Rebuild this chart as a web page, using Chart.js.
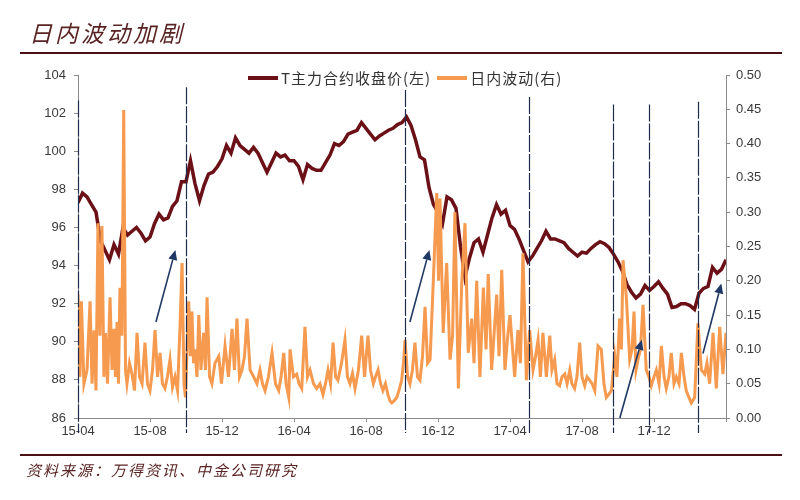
<!DOCTYPE html>
<html>
<head>
<meta charset="utf-8">
<script src="https://cdn.jsdelivr.net/npm/chart.js@4.4.1/dist/chart.umd.min.js"></script>
<style>
  body { margin: 0; background: #fff; }
  #wrap { position: relative; width: 800px; height: 500px; overflow: hidden; }
  #title { position: absolute; left: 29px; top: 15px; font: italic 23px "Noto Sans CJK SC"; letter-spacing: 3px; color: #5a2424; }
  #source { position: absolute; left: 26px; top: 459px; font: italic 15px "Noto Sans CJK SC"; letter-spacing: 2px; color: #5a2424; }
  .rule { position: absolute; left: 20px; width: 762px; height: 2px; background: #4a1014; }
  #legend { position: absolute; left: 248px; top: 67px; display: flex; align-items: center; font: 15px "Noto Sans CJK SC"; letter-spacing: 1px; color: #333; }
  .swatch { display: inline-block; width: 30px; height: 4px; margin-right: 3px; }
</style>
</head>
<body>
<div id="wrap">
  <canvas id="chart" width="800" height="500"></canvas>
  <div id="title">日内波动加剧</div>
  <div class="rule" style="top:52px"></div>
  <div class="rule" style="top:454px"></div>
  <div id="source">资料来源：万得资讯、中金公司研究</div>
  <div id="legend">
    <span class="swatch" style="background:#6b1017"></span><span>T主力合约收盘价(左)</span>
    <span class="swatch" style="background:#f59a4f;margin-left:6px"></span><span>日内波动(右)</span>
  </div>
</div>
<script>
// x axis is in months since 2015-04
const tickLabels = ['15-04', '15-08', '15-12', '16-04', '16-08', '16-12', '17-04', '17-08', '17-12', ''];

// T main contract close, one value per quarter month
const priceStep = 0.25;
const priceValues = [
  97.3, 97.8, 97.6, 97.2, 96.8, 95.3, 94.8, 94.3, 95.1, 94.6, 96.0, 95.6,
  95.8, 96.0, 95.7, 95.3, 95.5, 96.2, 96.7, 96.4, 96.5, 97.1, 97.4, 98.4,
  98.4, 99.5, 98.3, 97.4, 98.2, 98.8, 98.9, 99.2, 99.6, 100.3, 99.9, 100.7,
  100.3, 100.1, 99.9, 100.2, 99.9, 99.4, 98.9, 99.4, 99.9, 99.7, 99.8, 99.5,
  99.5, 99.2, 98.5, 99.3, 99.1, 99.0, 99.0, 99.4, 99.8, 100.4, 100.3, 100.5,
  100.9, 101.0, 101.1, 101.5, 101.2, 100.9, 100.6, 100.8, 100.95, 101.1, 101.2, 101.4,
  101.5, 101.8, 101.35, 100.6, 99.7, 99.55, 98.1, 97.2, 96.8, 96.2, 97.6, 97.45,
  97.0, 95.0, 93.4, 94.4, 95.2, 95.4, 94.7, 95.6, 96.5, 97.2, 96.7, 96.9,
  96.1, 95.9, 95.4, 94.8, 94.2, 94.5, 94.9, 95.3, 95.8, 95.4, 95.4, 95.3,
  95.2, 94.9, 94.7, 94.5, 94.7, 94.65, 94.9, 95.1, 95.25, 95.15, 94.95, 94.6,
  94.2, 93.7, 93.0, 92.6, 92.3, 92.5, 92.95, 92.7, 92.9, 93.15, 92.8, 92.5,
  91.8, 91.85, 92.0, 92.0, 91.9, 91.7, 92.55, 92.8, 92.9, 93.9, 93.6, 93.8,
  94.3
];

// intraday volatility
const volMonths = [
  0.00, 0.11, 0.19, 0.33, 0.50, 0.67, 0.78, 0.89, 1.00, 1.11, 1.22, 1.33, 1.44, 1.53, 1.64, 1.78,
  1.89, 2.00, 2.08, 2.17, 2.25, 2.33, 2.44, 2.54, 2.64, 2.72, 2.86, 3.00, 3.14, 3.28, 3.42, 3.56,
  3.72, 3.86, 4.00, 4.14, 4.28, 4.42, 4.56, 4.69, 4.83, 4.97, 5.11, 5.25, 5.39, 5.53, 5.67, 5.78,
  5.89, 5.97, 6.06, 6.15, 6.25, 6.33, 6.42, 6.50, 6.61, 6.71, 6.83, 6.98, 7.08, 7.17, 7.31, 7.44,
  7.61, 7.82, 7.97, 8.17, 8.36, 8.56, 8.69, 8.83, 8.97, 9.11, 9.25, 9.39, 9.56, 9.76, 9.94, 10.11,
  10.25, 10.39, 10.58, 10.78, 10.97, 11.15, 11.28, 11.43, 11.56, 11.71, 11.78, 11.97, 12.15, 12.28, 12.43, 12.61,
  12.75, 12.89, 13.08, 13.26, 13.44, 13.61, 13.75, 13.89, 14.03, 14.17, 14.31, 14.44, 14.64, 14.83, 14.97, 15.11,
  15.25, 15.39, 15.58, 15.76, 15.92, 16.11, 16.25, 16.41, 16.53, 16.67, 16.81, 16.94, 17.08, 17.22, 17.33, 17.43,
  17.56, 17.71, 17.83, 17.98, 18.08, 18.17, 18.31, 18.44, 18.58, 18.72, 18.86, 19.00, 19.14, 19.28, 19.42, 19.56,
  19.74, 19.93, 20.03, 20.11, 20.29, 20.48, 20.67, 20.81, 20.94, 21.13, 21.32, 21.50, 21.68, 21.87, 22.00, 22.15,
  22.33, 22.52, 22.67, 22.79, 22.98, 23.11, 23.26, 23.39, 23.54, 23.72, 23.89, 24.00, 24.26, 24.44, 24.58, 24.72,
  24.91, 25.09, 25.28, 25.42, 25.56, 25.69, 25.83, 26.02, 26.21, 26.33, 26.48, 26.61, 26.76, 26.89, 27.04, 27.17,
  27.32, 27.44, 27.59, 27.72, 27.87, 28.00, 28.15, 28.28, 28.43, 28.56, 28.71, 28.89, 29.07, 29.22, 29.35, 29.50,
  29.63, 29.82, 29.94, 30.09, 30.19, 30.28, 30.46, 30.65, 30.78, 30.89, 31.00, 31.11, 31.25, 31.39, 31.57, 31.72,
  31.85, 32.00, 32.13, 32.28, 32.41, 32.56, 32.68, 32.83, 32.96, 33.11, 33.24, 33.39, 33.52, 33.67, 33.79, 33.94,
  34.07, 34.26, 34.44, 34.63, 34.82, 34.94, 35.09, 35.28, 35.46, 35.65, 35.83, 36.00
];
const volValues = [
  0.18, 0.06, 0.17, 0.05, 0.07, 0.17, 0.05, 0.128, 0.04, 0.284, 0.12, 0.28, 0.06, 0.124, 0.05, 0.176,
  0.07, 0.13, 0.06, 0.14, 0.05, 0.19, 0.12, 0.449, 0.07, 0.05, 0.08, 0.064, 0.04, 0.124, 0.06, 0.05,
  0.11, 0.05, 0.04, 0.07, 0.128, 0.06, 0.095, 0.05, 0.043, 0.06, 0.085, 0.045, 0.06, 0.04, 0.135, 0.226,
  0.05, 0.03, 0.10, 0.17, 0.09, 0.155, 0.08, 0.10, 0.06, 0.15, 0.07, 0.124, 0.07, 0.176, 0.06, 0.05,
  0.08, 0.09, 0.05, 0.105, 0.06, 0.13, 0.07, 0.145, 0.06, 0.07, 0.09, 0.145, 0.07, 0.06, 0.05, 0.07,
  0.05, 0.04, 0.06, 0.095, 0.05, 0.04, 0.06, 0.095, 0.05, 0.03, 0.10, 0.06, 0.064, 0.05, 0.043, 0.133,
  0.06, 0.07, 0.05, 0.043, 0.05, 0.034, 0.05, 0.07, 0.05, 0.11, 0.06, 0.055, 0.08, 0.114, 0.06, 0.05,
  0.065, 0.043, 0.07, 0.12, 0.06, 0.12, 0.07, 0.05, 0.06, 0.07, 0.05, 0.04, 0.05, 0.034, 0.025, 0.022,
  0.025, 0.03, 0.04, 0.055, 0.08, 0.114, 0.06, 0.05, 0.07, 0.11, 0.06, 0.055, 0.09, 0.162, 0.08, 0.085,
  0.20, 0.328, 0.20, 0.32, 0.124, 0.226, 0.085, 0.12, 0.30, 0.043, 0.197, 0.284, 0.095, 0.145, 0.08, 0.20,
  0.06, 0.19, 0.10, 0.21, 0.07, 0.12, 0.18, 0.09, 0.216, 0.07, 0.124, 0.15, 0.06, 0.128, 0.08, 0.24,
  0.055, 0.128, 0.07, 0.09, 0.114, 0.06, 0.124, 0.06, 0.12, 0.07, 0.085, 0.05, 0.047, 0.06, 0.064, 0.05,
  0.07, 0.05, 0.043, 0.06, 0.11, 0.06, 0.047, 0.06, 0.055, 0.05, 0.04, 0.105, 0.10, 0.05, 0.03, 0.035,
  0.04, 0.09, 0.06, 0.145, 0.10, 0.23, 0.177, 0.085, 0.10, 0.155, 0.07, 0.085, 0.10, 0.165, 0.07, 0.06,
  0.047, 0.06, 0.07, 0.05, 0.105, 0.06, 0.043, 0.06, 0.095, 0.05, 0.06, 0.05, 0.095, 0.06, 0.04, 0.03,
  0.022, 0.03, 0.138, 0.07, 0.064, 0.08, 0.05, 0.124, 0.043, 0.133, 0.064, 0.124
];

// dashed event lines (month, top on right axis) and arrows (from/to in month, right axis)
const markerMonths = [0, 6.0, 18.17, 25.05, 29.7, 31.72, 34.44];
const markerTops = [0.463, 0.482, 0.478, 0.468, 0.457, 0.457, 0.461];
const arrows = [
  [4.33, 0.14, 5.41, 0.245],
  [18.44, 0.14, 19.52, 0.245],
  [30.1, 0.0, 31.32, 0.114],
  [34.72, 0.094, 35.74, 0.196]
];

const pricePoints = priceValues.map((v, i) => ({ x: i * priceStep, y: v }));
const volPoints = volValues.map((v, i) => ({ x: volMonths[i], y: v }));

const markers = {
  id: 'markers',
  afterDatasetsDraw(chart) {
    const { ctx, scales, chartArea } = chart;
    ctx.save();
    ctx.strokeStyle = '#1e2b4a';
    ctx.lineWidth = 1.2;
    ctx.setLineDash([17, 2]);
    markerMonths.forEach((m, i) => {
      const x = Math.round(scales.x.getPixelForValue(m)) + 0.5;
      ctx.beginPath();
      ctx.moveTo(x, scales.y1.getPixelForValue(markerTops[i]));
      ctx.lineTo(x, chartArea.bottom + 15);
      ctx.stroke();
    });
    ctx.setLineDash([]);
    ctx.strokeStyle = '#1f3864';
    ctx.fillStyle = '#1f3864';
    ctx.lineWidth = 1.6;
    arrows.forEach(a => {
      const x0 = scales.x.getPixelForValue(a[0]), y0 = scales.y1.getPixelForValue(a[1]);
      const x1 = scales.x.getPixelForValue(a[2]), y1 = scales.y1.getPixelForValue(a[3]);
      const ang = Math.atan2(y1 - y0, x1 - x0);
      const hl = 10, hw = 4.5;
      const bx = x1 - hl * Math.cos(ang), by = y1 - hl * Math.sin(ang);
      ctx.beginPath();
      ctx.moveTo(x0, y0);
      ctx.lineTo(bx, by);
      ctx.stroke();
      ctx.beginPath();
      ctx.moveTo(x1, y1);
      ctx.lineTo(bx + hw * Math.sin(ang), by - hw * Math.cos(ang));
      ctx.lineTo(bx - hw * Math.sin(ang), by + hw * Math.cos(ang));
      ctx.closePath();
      ctx.fill();
    });
    ctx.restore();
  }
};

const tickFont = { family: 'Liberation Sans', size: 13 };

new Chart(document.getElementById('chart'), {
  type: 'line',
  data: {
    datasets: [
      {
        label: 'T主力合约收盘价(左)',
        data: pricePoints,
        yAxisID: 'y',
        borderColor: '#6b1017',
        borderWidth: 3.5,
        pointRadius: 0,
        order: 2
      },
      {
        label: '日内波动(右)',
        data: volPoints,
        yAxisID: 'y1',
        borderColor: '#f59a4f',
        borderWidth: 3,
        pointRadius: 0,
        order: 1
      }
    ]
  },
  options: {
    responsive: false,
    animation: false,
    devicePixelRatio: 1,
    layout: { padding: { top: 75 } },
    plugins: { legend: { display: false }, tooltip: { enabled: false } },
    scales: {
      x: {
        type: 'linear',
        min: 0,
        max: 36,
        afterFit: s => { s.height = 82; },
        ticks: {
          stepSize: 4,
          autoSkip: false,
          maxRotation: 0,
          padding: 2,
          color: '#3a3a3a',
          font: tickFont,
          callback: v => tickLabels[v / 4]
        },
        grid: { drawOnChartArea: false, tickLength: 4, color: '#8a8a8a' },
        border: { color: '#8a8a8a' }
      },
      y: {
        position: 'left',
        min: 86,
        max: 104,
        afterFit: s => { s.width = 78; },
        ticks: { stepSize: 2, padding: 8, color: '#3a3a3a', font: tickFont },
        grid: { drawOnChartArea: false, tickLength: 4, color: '#8a8a8a' },
        border: { color: '#8a8a8a' }
      },
      y1: {
        position: 'right',
        min: 0,
        max: 0.5,
        afterFit: s => { s.width = 74; },
        ticks: { stepSize: 0.05, padding: 6, color: '#3a3a3a', font: tickFont, callback: v => v.toFixed(2) },
        grid: { drawOnChartArea: false, tickLength: 4, color: '#8a8a8a' },
        border: { color: '#8a8a8a' }
      }
    }
  },
  plugins: [markers]
});
</script>
</body>
</html>
